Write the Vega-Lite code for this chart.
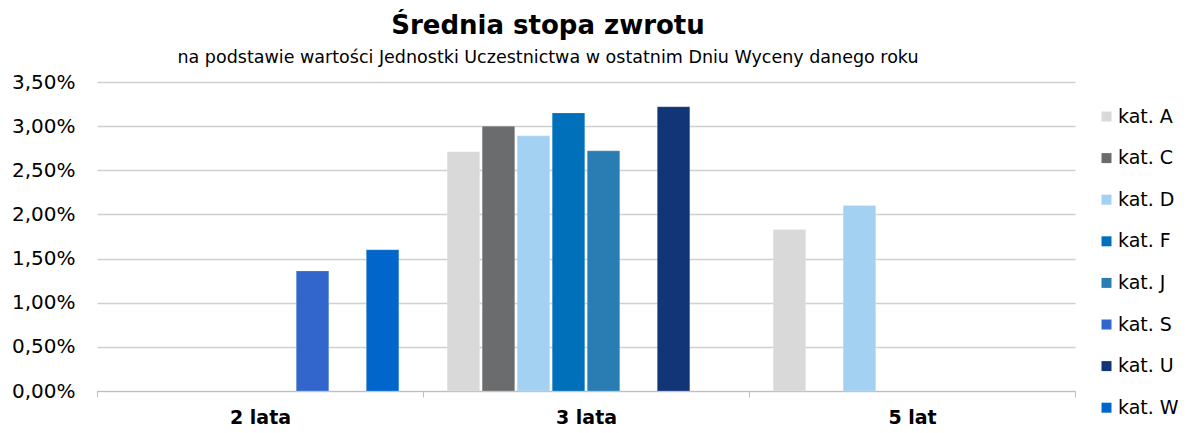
{
  "$schema": "https://vega.github.io/schema/vega-lite/v6.json",
  "autosize": {"type": "none"},
  "padding": {"left": 97, "top": 82, "right": 119, "bottom": 42},
  "width": 978,
  "height": 309,
  "background": "white",
  "title": {
    "text": "Średnia stopa zwrotu",
    "subtitle": "na podstawie wartości Jednostki Uczestnictwa w ostatnim Dniu Wyceny danego roku",
    "anchor": "middle",
    "dx": -38,
    "font": "DejaVu Sans",
    "fontSize": 26,
    "fontWeight": "bold",
    "color": "#000000",
    "subtitleFont": "DejaVu Sans",
    "subtitleFontSize": 17.5,
    "subtitleColor": "#000000",
    "subtitlePadding": 10,
    "offset": 6
  },
  "data": {
    "values": [
      {"okres": "2 lata", "kat": "kat. S", "v": 0.0136},
      {"okres": "2 lata", "kat": "kat. W", "v": 0.0160},
      {"okres": "3 lata", "kat": "kat. A", "v": 0.0271},
      {"okres": "3 lata", "kat": "kat. C", "v": 0.0300},
      {"okres": "3 lata", "kat": "kat. D", "v": 0.0289},
      {"okres": "3 lata", "kat": "kat. F", "v": 0.0315},
      {"okres": "3 lata", "kat": "kat. J", "v": 0.0272},
      {"okres": "3 lata", "kat": "kat. U", "v": 0.0322},
      {"okres": "5 lat", "kat": "kat. A", "v": 0.0183},
      {"okres": "5 lat", "kat": "kat. D", "v": 0.0210}
    ]
  },
  "mark": {"type": "bar", "stroke": "#ffffff", "strokeOpacity": 0.35, "strokeWidth": 0.6},
  "encoding": {
    "x": {
      "field": "okres",
      "type": "nominal",
      "sort": ["2 lata", "3 lata", "5 lat"],
      "scale": {"paddingInner": 0, "paddingOuter": 0},
      "axis": {
        "title": null,
        "labelAngle": 0,
        "labelFont": "DejaVu Sans",
        "labelFontSize": 19,
        "labelFontWeight": "bold",
        "labelColor": "#000000",
        "labelPadding": 11,
        "tickBand": "extent",
        "tickSize": 6,
        "tickColor": "#bfbfbf",
        "domainColor": "#bfbfbf",
        "grid": false
      }
    },
    "xOffset": {
      "field": "kat",
      "type": "nominal",
      "scale": {
        "domain": ["kat. A", "kat. C", "kat. D", "kat. F", "kat. J", "kat. S", "kat. U", "kat. W"],
        "paddingInner": 0.07,
        "paddingOuter": 0.69
      }
    },
    "y": {
      "field": "v",
      "type": "quantitative",
      "scale": {"domain": [0, 0.035], "nice": false},
      "axis": {
        "title": null,
        "values": [0, 0.005, 0.01, 0.015, 0.02, 0.025, 0.03, 0.035],
        "format": ".2%",
        "labelFont": "DejaVu Sans",
        "labelFontSize": 20,
        "labelColor": "#000000",
        "labelPadding": 22,
        "ticks": false,
        "domain": false,
        "grid": true,
        "gridColor": "#d0d0d0",
        "gridWidth": 1.3
      }
    },
    "color": {
      "field": "kat",
      "type": "nominal",
      "scale": {
        "domain": ["kat. A", "kat. C", "kat. D", "kat. F", "kat. J", "kat. S", "kat. U", "kat. W"],
        "range": ["#d9d9d9", "#6b6c6e", "#a3d1f1", "#0070ba", "#2a7db3", "#3366cc", "#113577", "#0066cc"]
      },
      "legend": {
        "title": null,
        "orient": "none",
        "legendX": 1000,
        "legendY": 25,
        "padding": 0,
        "symbolType": "square",
        "symbolSize": 100,
        "symbolStrokeWidth": 0,
        "labelFont": "DejaVu Sans",
        "labelFontSize": 19,
        "labelColor": "#000000",
        "labelOffset": 2,
        "rowPadding": 21.6
      }
    }
  },
  "config": {
    "locale": {
      "number": {"decimal": ",", "thousands": " ", "grouping": [3], "currency": ["", " zł"]}
    },
    "view": {"stroke": null}
  }
}
